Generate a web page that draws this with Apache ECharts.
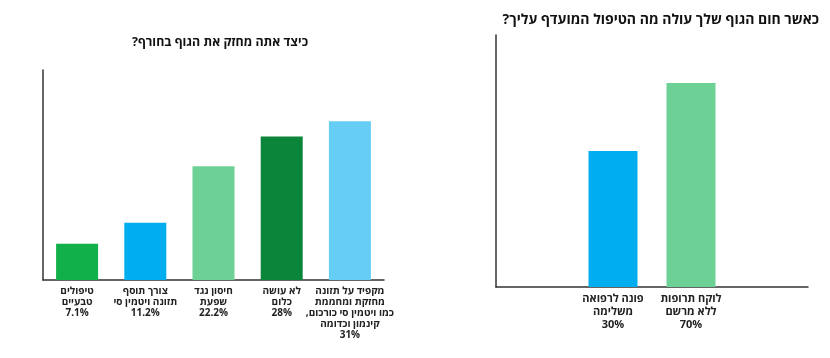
<!DOCTYPE html>
<html dir="rtl">
<head>
<meta charset="utf-8">
<script src="https://cdn.jsdelivr.net/npm/echarts@6/dist/echarts.min.js"></script>
<style>
html,body{margin:0;padding:0;background:#fff;}
#c{width:830px;height:358px;}
</style>
</head>
<body>
<div id="c"></div>
<script>
// Left chart: "How do you strengthen your body in winter?"
const leftTitle = 'כיצד אתה מחזק את הגוף בחורף?';
const leftCategories = [
  'טיפולים\nטבעיים',
  'צורך תוסף\nתזונה ויטמין סי',
  'חיסון נגד\nשפעת',
  'לא עושה\nכלום',
  'מקפיד על תזונה\nמחזקת ומחממת\nכמו ויטמין סי כורכום,\nקינמון וכדומה'
];
const leftValues = [7.1, 11.2, 22.2, 28, 31];
const leftColors = ['#12b04b', '#00adef', '#6dd196', '#0a8539', '#66cdf5'];

// Right chart: "When your body temperature rises, what treatment do you prefer?"
const rightTitle = 'כאשר חום הגוף שלך עולה מה הטיפול המועדף עליך?';
const rightCategories = ['', 'פונה לרפואה\nמשלימה', 'לוקח תרופות\nללא מרשם', ''];
const rightPercents = [null, 30, 70, null];
// bar lengths as drawn in the picture (the original is not drawn to scale)
const rightDrawn = [null, 54, 81, null];
const rightColors = [null, '#00adef', '#6dd196', null];

const FONT = "'Open Sans', 'Liberation Sans', 'DejaVu Sans', sans-serif";
const chart = echarts.init(document.getElementById('c'), null, {renderer: 'canvas'});

const fmt = v => v + '%';

chart.setOption({
  animation: false,
  textStyle: {fontFamily: FONT},
  title: [
    {text: leftTitle, left: 215, top: 31, textAlign: 'center',
     textStyle: {fontSize: 12.4, fontWeight: 'bold', color: '#111', fontFamily: FONT}},
    {text: rightTitle, right: 6, top: 8,
     textStyle: {fontSize: 14, fontWeight: 'bold', color: '#111', fontFamily: FONT}}
  ],
  grid: [
    {left: 43, top: 70, width: 341, height: 210},
    {left: 496, top: 35, width: 312, height: 252}
  ],
  xAxis: [
    {type: 'category', gridIndex: 0, data: leftCategories.map((c, i) => c + '\n' + fmt(leftValues[i])),
     axisLine: {lineStyle: {color: '#333', width: 1.5}}, axisTick: {show: false},
     axisLabel: {interval: 0, color: '#222', fontWeight: 'bold', fontSize: 10, lineHeight: 11, margin: 6, fontFamily: FONT}},
    {type: 'category', gridIndex: 1,
     data: rightCategories.map((c, i) => c ? c + '\n' + fmt(rightPercents[i]) : ''),
     axisLine: {lineStyle: {color: '#333', width: 1.5}}, axisTick: {show: false},
     axisLabel: {interval: 0, color: '#222', fontWeight: 'bold', fontSize: 11, lineHeight: 13, margin: 5, fontFamily: FONT}}
  ],
  yAxis: [
    {type: 'value', gridIndex: 0, min: 0, max: 41, axisLine: {show: true, lineStyle: {color: '#333', width: 1.5}},
     axisTick: {show: false}, axisLabel: {show: false}, splitLine: {show: false}},
    {type: 'value', gridIndex: 1, min: 0, max: 100, axisLine: {show: true, lineStyle: {color: '#333', width: 1.5}},
     axisTick: {show: false}, axisLabel: {show: false}, splitLine: {show: false}}
  ],
  series: [
    {type: 'bar', xAxisIndex: 0, yAxisIndex: 0, barWidth: 42,
     data: leftValues.map((v, i) => ({value: v, itemStyle: {color: leftColors[i]}}))},
    {type: 'bar', xAxisIndex: 1, yAxisIndex: 1, barWidth: 49,
     data: rightDrawn.map((v, i) => v == null ? null : ({value: v, itemStyle: {color: rightColors[i]}}))}
  ]
});
</script>
</body>
</html>
